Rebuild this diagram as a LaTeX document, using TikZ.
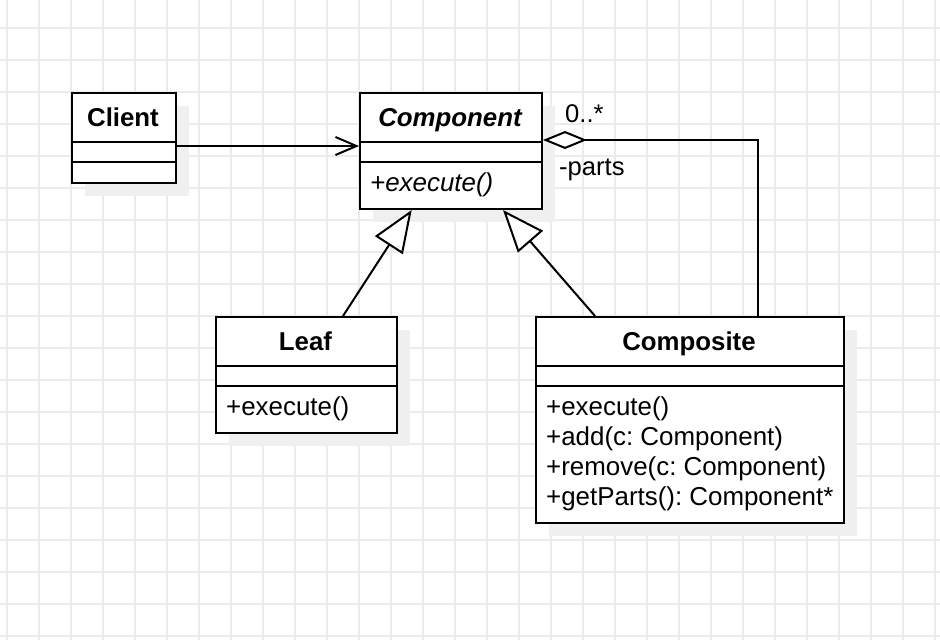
\documentclass[tikz,border=0pt]{standalone}
\usepackage{fontspec}
\setmainfont{Liberation Sans}
\frenchspacing
\usetikzlibrary{arrows.meta,calc}
\definecolor{gridc}{RGB}{235,235,235}
\definecolor{shadowc}{RGB}{240,240,240}
\begin{document}
\begin{tikzpicture}[x=1pt,y=-1pt,
  classbox/.style={draw=black,line width=2pt,fill=white,inner sep=0pt,anchor=north west},
  divider/.style={draw=black,line width=2pt},
  title/.style={font=\fontsize{25.8}{30}\selectfont\frenchspacing\bfseries,anchor=base,inner sep=0pt},
  member/.style={font=\fontsize{25.9}{30}\selectfont\frenchspacing,anchor=base west,inner sep=0pt},
  lbl/.style={font=\fontsize{25.6}{30}\selectfont,anchor=base west,inner sep=0pt},
  conn/.style={line width=2pt,draw=black},
  gridline/.style={draw=gridc,line width=1.5pt},
]
\fill[white] (0,0) rectangle (940,640);
\useasboundingbox (0,0) rectangle (940,640);
% grid
\foreach \i in {0,...,29} \draw[gridline] ({7+32*\i},0) -- ({7+32*\i},640);
\foreach \j in {0,...,19} \draw[gridline] (0,{28+32*\j}) -- (940,{28+32*\j});
% shadows
\fill[shadowc] (85,106) rectangle (189,196);
\fill[shadowc] (373,106) rectangle (555,222);
\fill[shadowc] (229,330) rectangle (410,446);
\fill[shadowc] (549,330) rectangle (857,536);
% class boxes
\node[classbox,minimum width=104pt,minimum height=90pt] (client) at (71,92) {};
\node[classbox,minimum width=182pt,minimum height=116pt] (component) at (359,92) {};
\node[classbox,minimum width=181pt,minimum height=116pt] (leaf) at (215,316) {};
\node[classbox,minimum width=308pt,minimum height=206pt] (composite) at (535,316) {};
% dividers
\foreach \b in {client,component,leaf,composite}{
  \draw[divider] ($(\b.north west)+(0,50)$) -- ($(\b.north east)+(0,50)$);
  \draw[divider] ($(\b.north west)+(0,70)$) -- ($(\b.north east)+(0,70)$);
}
% texts
\node[title] (clientT) at (123,126) {Client};
\node[title,font=\fontsize{25.8}{30}\selectfont\bfseries\itshape] (componentT) at (450,126) {Component};
\node[member,font=\fontsize{25.9}{30}\selectfont\itshape] (componentM) at (370,191) {+execute()};
\node[title] (leafT) at (305.5,350) {Leaf};
\node[member] (leafM) at (226,415) {+execute()};
\node[title] (compositeT) at (689,350) {Composite};
\node[member] (compositeM1) at (546,415) {+execute()};
\node[member] (compositeM2) at (546,445) {+add(c: Component)};
\node[member] (compositeM3) at (546,475) {+remove(c: Component)};
\node[member] (compositeM4) at (546,505) {+getParts(): Component*};
% connectors
\draw[conn,-{Straight Barb[length=21pt,width=18pt]}] ($(client.north east)+(0,54)$) -- ($(component.north west)+(0,54)$);
\draw[conn,-{Triangle[open,fill=white,length=42pt,width=33pt]}] ($(leaf.north west)+(128,0)$) -- ($(component.south west)+(52.7,0)$);
\draw[conn,-{Triangle[open,fill=white,length=42pt,width=33pt]}] ($(composite.north west)+(60,0)$) -- ($(component.south west)+(144,0)$);
\draw[conn,{Diamond[open,fill=white,length=44pt,width=18pt]}-] ($(component.north east)+(0,48)$) -| ($(composite.north west)+(223,0)$);
\node[lbl] (mult) at (565,122) {0..*};
\node[lbl] (role) at (559,175) {-parts};
\end{tikzpicture}
\end{document}
